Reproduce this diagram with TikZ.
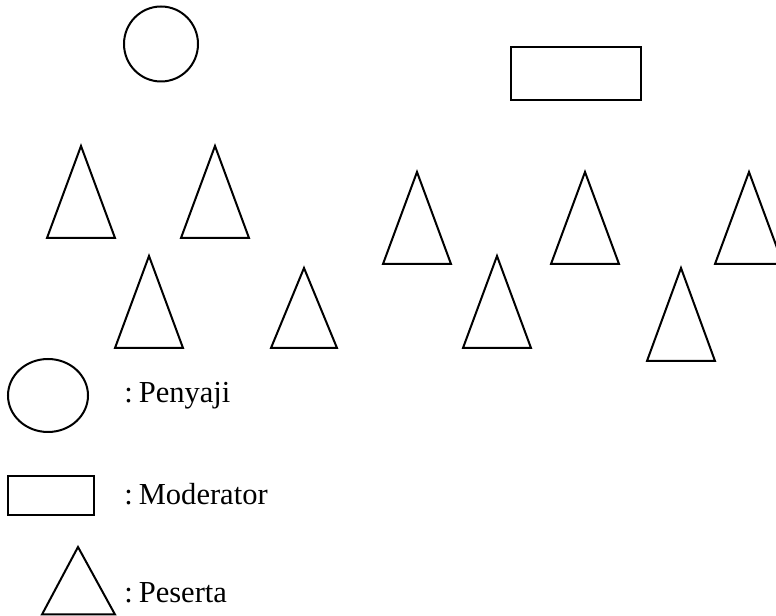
\documentclass[tikz,border=0pt]{standalone}
\usepackage{fontspec}
\setmainfont{Liberation Serif}
\begin{document}
\begin{tikzpicture}[x=0.75pt,y=-0.75pt,
  shp/.style={draw=black,line width=1.5pt,line join=miter},
  lbl/.style={anchor=base west,inner sep=0pt,font=\fontsize{22.9pt}{26pt}\selectfont}]
\useasboundingbox (0,0) rectangle (776,616);
% presenter and moderator
\draw[shp] (161,44) ellipse [x radius=37,y radius=37.5];
\draw[shp] (511,47) rectangle (641,100);
% participants: apex x, apex y, half width, base y
\foreach \ax/\ay/\hw/\by in {81/146/34/238, 215/146/34/238, 149/256/34/348, 304/268/33/348,
  417/172/34/264, 585/172/34/264, 749/172/34/264, 497/256/34/348, 681/268/34/361}{
  \draw[shp] (\ax,\ay) -- (\ax+\hw,\by) -- (\ax-\hw,\by) -- cycle;
}
% legend
\draw[shp] (48,395.5) ellipse [x radius=40,y radius=36.5];
\draw[shp] (8,476) rectangle (94,515);
\draw[shp] (78,547) -- (115,614.5) -- (42,614.5) -- cycle;
\node[lbl] (penyaji) at (124,403) {:\hspace{0.2em}Penyaji};
\node[lbl] (moderator) at (124,505) {:\hspace{0.2em}Moderator};
\node[lbl] (peserta) at (124,603) {:\hspace{0.2em}Peserta};
\end{tikzpicture}
\end{document}
